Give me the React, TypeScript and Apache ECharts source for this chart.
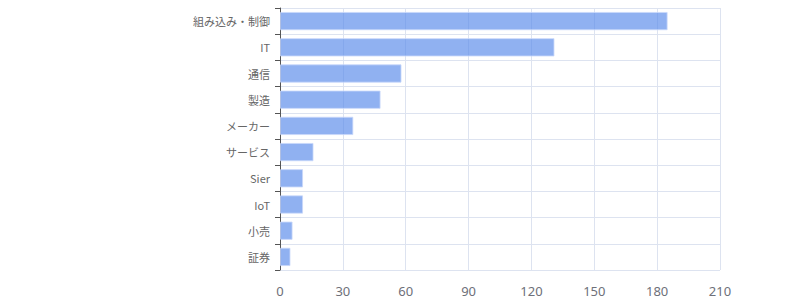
import React, { useEffect, useRef } from "react";
import * as echarts from "echarts";

const categories = ["組み込み・制御", "IT", "通信", "製造", "メーカー", "サービス", "Sier", "IoT", "小売", "証券"];
const values = [185, 131, 58, 48, 35, 16, 11, 11, 6, 5];
const xTicks = [0, 30, 60, 90, 120, 150, 180, 210];

export default function App() {
  const ref = useRef<HTMLDivElement>(null);
  useEffect(() => {
    const chart = echarts.init(ref.current!, null, { renderer: "svg" });
    chart.setOption({
      animation: false,
      grid: { left: 280, right: 80, top: 8, bottom: 30, containLabel: false },
      xAxis: {
        type: "value",
        min: xTicks[0],
        max: xTicks[xTicks.length - 1],
        interval: 30,
        axisLine: { show: false },
        axisTick: { show: false },
        axisLabel: { color: "#6e7079", fontSize: 13, margin: 14, fontFamily: "Noto Sans" },
        splitLine: { show: true, lineStyle: { color: "#dde3f0", width: 1 } },
      },
      yAxis: {
        type: "category",
        inverse: true,
        data: categories,
        axisLine: { show: true, lineStyle: { color: "#555" } },
        axisTick: { show: true, length: 5, lineStyle: { color: "#555" } },
        axisLabel: { color: "#666", fontSize: 11, margin: 10, fontFamily: "Noto Sans CJK JP" },
        splitLine: { show: true, lineStyle: { color: "#dde3f0", width: 1 } },
      },
      series: [
        {
          type: "bar",
          data: values,
          barCategoryGap: "30%",
          itemStyle: {
            color: "rgba(91,140,235,0.68)",
            borderColor: "rgba(200,215,250,0.8)",
            borderWidth: 1,
          },
        },
      ],
    });
    return () => chart.dispose();
  }, []);
  return <div ref={ref} style={{ width: 800, height: 300, position: "absolute", left: 0, top: 0 }} />;
}
